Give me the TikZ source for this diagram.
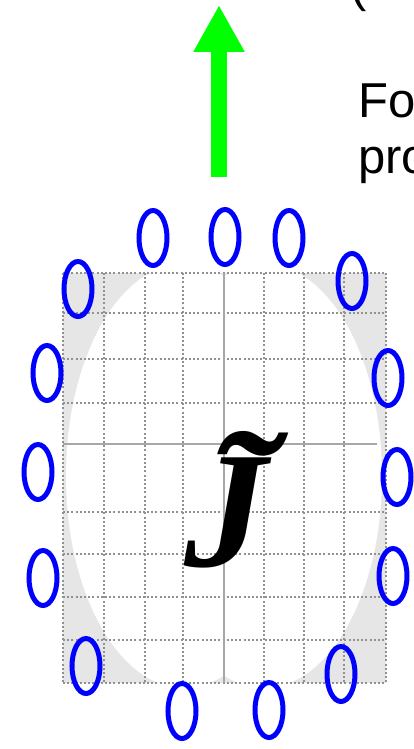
\documentclass[tikz,border=0pt]{standalone}
\usepackage{fontspec,graphicx}
\setmainfont{Liberation Sans}
\newfontfamily\jserif{Liberation Serif}
\usetikzlibrary{arrows.meta,shapes.geometric}
\definecolor{coilblue}{RGB}{0,0,255}
\definecolor{pushgreen}{RGB}{0,255,0}
\definecolor{fieldgray}{RGB}{230,230,230}
\definecolor{gridgray}{RGB}{145,145,145}
\tikzset{
  coil/.style={draw=coilblue,line width=5pt,ellipse,inner sep=0pt,minimum width=28pt,minimum height=55pt},
  gridline/.style={draw=gridgray,line width=2.2pt,dash pattern=on 2pt off 2.2pt},
  axisline/.style={draw=gridgray!80,line width=1.4pt},
}
\begin{document}
\begin{tikzpicture}[x=1pt,y=-1pt,>=Latex]
\clip (0,0) rectangle (414,749);
% field map behind the coils
\fill[fieldgray] (63,273) rectangle (386,683);
\begin{scope}
\clip (63,273) rectangle (386,683);
\fill[white] (184,476) ellipse [x radius=118,y radius=212];
\fill[white] (264,476) ellipse [x radius=118,y radius=212];
\end{scope}
\foreach \gx in {63,104,145,183,264,304,344,386} \draw[gridline] (\gx,273) -- (\gx,683);
\foreach \gy in {273,313,359,403,512,554,597,640,683} \draw[gridline] (63,\gy) -- (386,\gy);
\draw[axisline] (224,273) -- (224,683);
\draw[axisline] (63,444) -- (377,444);
\node[anchor=base,inner sep=0pt,font=\jserif\bfseries\itshape\fontsize{166}{166}\selectfont] (jtilde) at (226,566) {\rlap{\kern0.145em\raisebox{0.13em}{\scalebox{1.2}[1]{˜}}}J};
% coil ring
\foreach \cname/\cx/\cy in {c1/153/238,c2/225/237,c3/289/238,c4/78/289,c5/352/281,c6/47/373,c7/388/378,c8/38/472,c9/397/477,c10/43/578,c11/393/576,c12/86/666,c13/341/674,c14/182/711,c15/269/710}
  \node[coil] (\cname) at (\cx,\cy) {};
% push arrow
\coordinate (pushtail) at (219,177);
\coordinate (pushtip) at (219,5);
\draw[pushgreen,line width=16pt,-{Triangle[length=47pt,width=48pt]}] (pushtail) -- (pushtip);
\node[anchor=base west,inner sep=0pt,font=\fontsize{49}{56}\selectfont] (paren) at (350,2) {(};
\node[anchor=base west,inner sep=0pt,align=left,font=\fontsize{49}{56}\selectfont] (caption) at (358,173) {Fo\\pro};
\end{tikzpicture}
\end{document}
